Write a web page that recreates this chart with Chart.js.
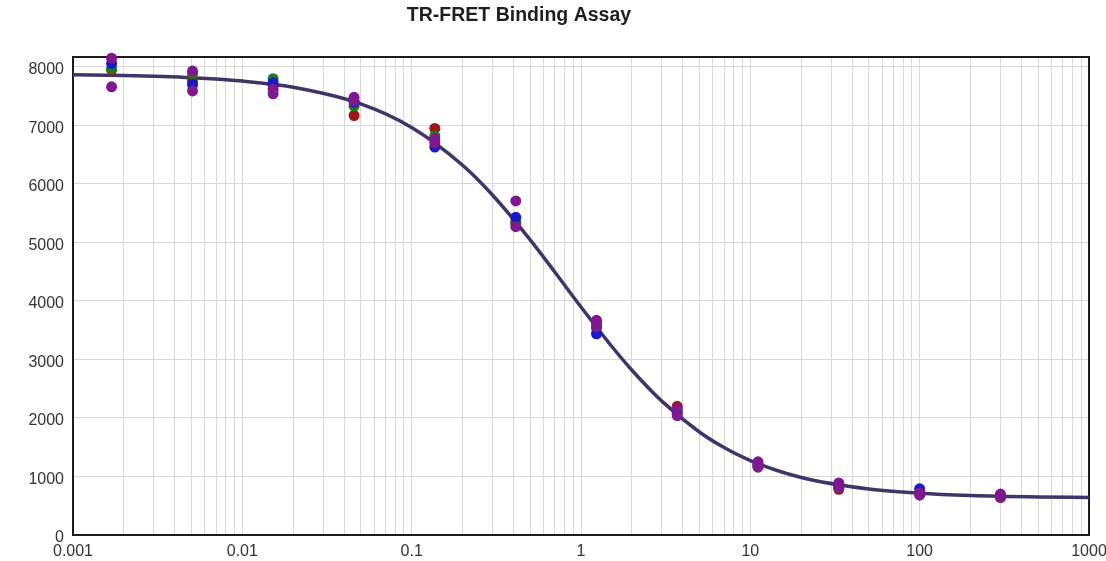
<!DOCTYPE html>
<html>
<head>
<meta charset="utf-8">
<title>TR-FRET Binding Assay</title>
<script src="https://cdn.jsdelivr.net/npm/chart.js@4.4.1/dist/chart.umd.min.js"></script>
<style>
  html, body { margin: 0; padding: 0; background: #fff; }
  #wrap { width: 1106px; height: 561px; }
</style>
</head>
<body>
<div id="wrap"><canvas id="assayChart"></canvas></div>
<script>
// Compound concentrations, 3-fold dilution series
const concentrations = [0.00169, 0.00508, 0.0152, 0.0457, 0.137, 0.412, 1.235, 3.70, 11.1, 33.3, 100, 300];

// Replicate signals per concentration
const signalRed     = [7950, 7760, 7680, 7170, 6950, 5330, 3620, 2200, 1170, 780, 700, 650];
const signalGreen   = [7970, 7880, 7800, 7330, 6820, 5360, 3540, 2120, 1190, 820, 710, 660];
const signalBlue    = [8060, 7700, 7730, 7400, 6630, 5430, 3440, 2080, 1210, 850, 790, 680];
const signalPurple  = [8150, 7930, 7620, 7480, 6770, 5710, 3670, 2150, 1250, 890, 680, 700];
const signalPurple2 = [7660, 7590, 7540, 7420, 6700, 5270, 3560, 2040, 1160, 810, 720, 640];

// Fitted dose-response curve
const fitX = [0.001, 0.002, 0.005, 0.01, 0.02, 0.05, 0.1, 0.2, 0.3, 0.5, 0.7, 1, 1.5, 2, 3, 5, 7, 10, 20, 50, 100, 200, 500, 1000];
const fitY = [7865, 7852, 7815, 7758, 7653, 7369, 6966, 6319, 5811, 5048, 4495, 3897, 3243, 2816, 2288, 1761, 1494, 1273, 984, 787, 714, 676, 651, 642];

// Axis ticks
const xTickValues = [0.001, 0.01, 0.1, 1, 10, 100, 1000];
const xTickLabels = ['0.001', '0.01', '0.1', '1', '10', '100', '1000'];
const yTickValues = [0, 1000, 2000, 3000, 4000, 5000, 6000, 7000, 8000];

// every 1..9 within each decade gets a grid line
const xGridValues = [];
xTickValues.forEach((v, i) => {
    xGridValues.push(v);
    if (i < xTickValues.length - 1) {
        for (let m = 2; m <= 9; m++) xGridValues.push(v * m);
    }
});

const toPoints = (ys) => concentrations.map((c, i) => ({ x: c, y: ys[i] }));

const FONT = "'Liberation Sans', Arial, sans-serif";

function replicate(label, ys, color, order) {
    return {
        type: 'scatter',
        label: label,
        data: toPoints(ys),
        backgroundColor: color,
        borderWidth: 0,
        pointRadius: 5.5,
        pointHoverRadius: 5.5,
        clip: false,
        order: order
    };
}

// plot frame drawn under the markers
const frame = {
    id: 'frame',
    beforeDatasetsDraw(chart) {
        const { ctx, chartArea: a } = chart;
        ctx.save();
        ctx.strokeStyle = '#1c1c1c';
        ctx.lineWidth = 2;
        ctx.strokeRect(a.left, a.top, a.right - a.left, a.bottom - a.top);
        ctx.restore();
    }
};

const heading = {
    id: 'heading',
    afterDraw(chart) {
        const ctx = chart.ctx;
        ctx.save();
        ctx.font = 'bold 19.5px ' + FONT;
        ctx.fillStyle = '#1e1e1e';
        ctx.textAlign = 'center';
        ctx.textBaseline = 'middle';
        ctx.fillText('TR-FRET Binding Assay', 519, 16);
        ctx.restore();
    }
};

new Chart(document.getElementById('assayChart'), {
    data: {
        datasets: [
            {
                type: 'line',
                label: 'Fit',
                data: fitX.map((x, i) => ({ x: x, y: fitY[i] })),
                borderColor: '#3d3666',
                borderWidth: 3.5,
                pointRadius: 0,
                cubicInterpolationMode: 'monotone',
                fill: false,
                order: 9
            },
            replicate('Rep 1', signalRed, '#a01616', 5),
            replicate('Rep 2', signalGreen, '#1b7a1b', 4),
            replicate('Rep 3', signalBlue, '#1818cc', 3),
            replicate('Rep 4', signalPurple2, '#7d1a8e', 2),
            replicate('Rep 5', signalPurple, '#7f1890', 1)
        ]
    },
    options: {
        responsive: true,
        maintainAspectRatio: false,
        animation: false,
        layout: { padding: { top: 57, right: 17, left: 0, bottom: 0 } },
        plugins: {
            legend: { display: false },
            title: { display: false },
            tooltip: { enabled: false }
        },
        scales: {
            x: {
                type: 'logarithmic',
                min: 0.001,
                max: 1000,
                afterBuildTicks: (scale) => {
                    scale.ticks = xGridValues.map(v => ({ value: v }));
                },
                afterFit: (scale) => {
                    scale.height = 26;
                    // let the end labels hang past the plot edges
                    scale.paddingLeft = 0;
                    scale.paddingRight = 0;
                },
                grid: { color: '#d8d8d8', lineWidth: 1, drawTicks: false },
                border: { display: false },
                ticks: {
                    autoSkip: false,
                    maxRotation: 0,
                    padding: 7,
                    color: '#333',
                    font: { family: FONT, size: 16 },
                    callback: (value) => {
                        const i = xTickValues.indexOf(value);
                        return i >= 0 ? xTickLabels[i] : '';
                    }
                }
            },
            y: {
                min: 0,
                max: 8170,
                afterBuildTicks: (scale) => {
                    scale.ticks = yTickValues.map(v => ({ value: v }));
                },
                afterFit: (scale) => {
                    scale.width = 73;
                    scale.paddingTop = 0;
                    scale.paddingBottom = 0;
                },
                grid: { color: '#d8d8d8', lineWidth: 1, drawTicks: false },
                border: { display: false },
                ticks: {
                    padding: 9,
                    labelOffset: 3,
                    color: '#333',
                    font: { family: FONT, size: 16 },
                    callback: (value) => String(value)
                }
            }
        }
    },
    plugins: [frame, heading]
});
</script>
</body>
</html>
